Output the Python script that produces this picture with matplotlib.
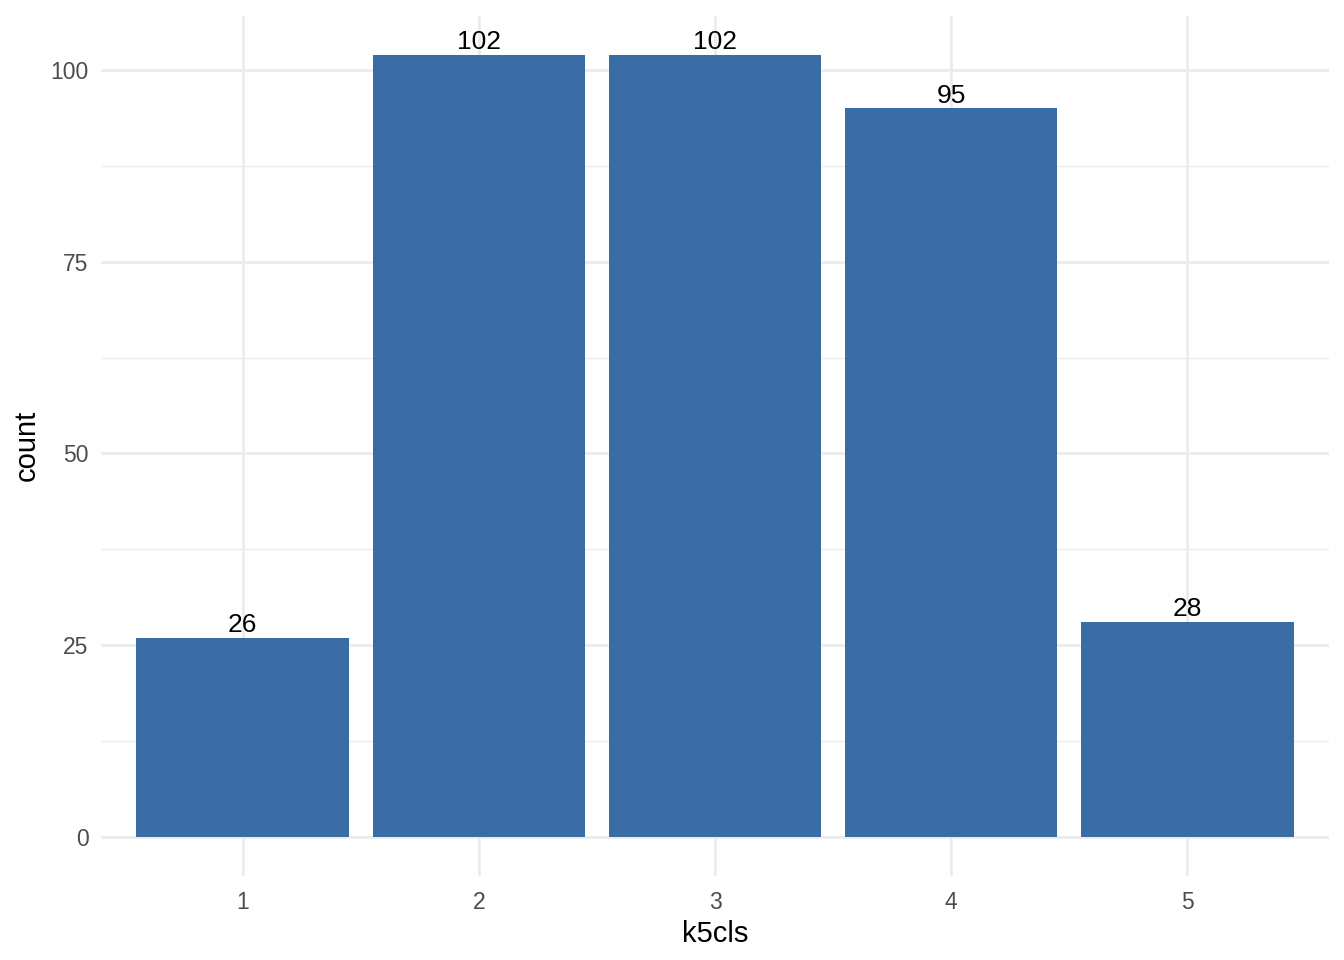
import matplotlib.pyplot as plt
import numpy as np

# data
categories = ["1", "2", "3", "4", "5"]
counts = [26, 102, 102, 95, 28]
y_ticks = [0, 25, 50, 75, 100]

plt.rcParams['font.family'] = ['Liberation Sans', 'DejaVu Sans']

fig = plt.figure(figsize=(13.44, 9.6), dpi=100)
ax = fig.add_axes([101 / 1344, 84 / 960, 1228 / 1344, 860.4 / 960])

x = np.arange(1, len(categories) + 1)
ax.bar(x, counts, width=0.9, color="#3A6DA5", zorder=2)
for xi, c in zip(x, counts):
    ax.annotate(str(c), (xi, c), xytext=(0, 0.5), textcoords="offset points",
                ha="center", va="bottom", fontsize=19, color="black", zorder=3)

ax.set_xlim(0.4, 5.6)
top = max(counts)
ax.set_ylim(-0.05 * top, top * 1.05)
ax.set_xticks(x)
ax.set_xticklabels(categories)
ax.set_yticks(y_ticks)
ax.set_yticks([12.5, 37.5, 62.5, 87.5], minor=True)

ax.grid(True, which="major", color="#EBEBEB", linewidth=1.9, zorder=0)
ax.grid(True, which="minor", axis="y", color="#EBEBEB", linewidth=0.95, zorder=0)
ax.set_axisbelow(True)
for s in ax.spines.values():
    s.set_visible(False)
ax.tick_params(which="both", length=0, labelsize=16.5, labelcolor="#4D4D4D")
ax.tick_params(axis="x", pad=11)
ax.tick_params(axis="y", pad=9)

ax.set_xlabel("k5cls", fontsize=21, labelpad=4)
ax.set_ylabel("count", fontsize=21, labelpad=7)

fig.savefig("out.png", dpi=100)
